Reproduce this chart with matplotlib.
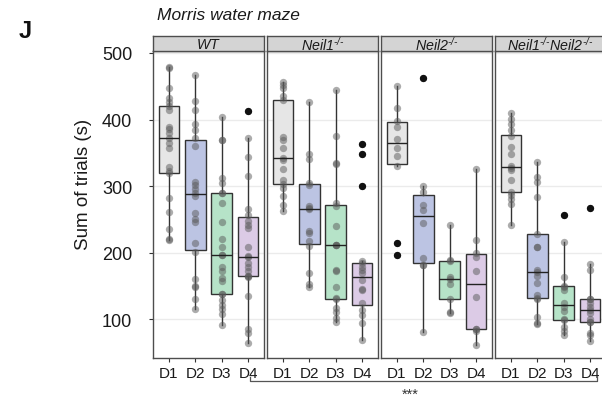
import matplotlib
matplotlib.use('Agg')
import matplotlib.pyplot as plt
from matplotlib.lines import Line2D
import numpy as np

plt.rcParams['font.family'] = ['Liberation Sans', 'DejaVu Sans']
plt.rcParams['mathtext.fontset'] = 'custom'
plt.rcParams['mathtext.rm'] = 'Liberation Sans:italic'
plt.rcParams['mathtext.it'] = 'Liberation Sans:italic'

days = ['D1', 'D2', 'D3', 'D4']
genotypes = [r'$\mathit{WT}$', r'$\mathit{Neil1}^{\text{-/-}}$', r'$\mathit{Neil2}^{\text{-/-}}$',
             r'$\mathit{Neil1}^{\text{-/-}}\mathit{Neil2}^{\text{-/-}}$']

wt_d1 = [219, 221, 236, 261, 283, 320, 323, 329, 358, 365, 373, 380, 386, 389, 415, 421, 426, 433, 447, 478, 479]
wt_d2 = [116, 130, 148, 150, 160, 201, 214, 246, 250, 260, 286, 290, 296, 302, 307, 360, 373, 384, 394, 415, 428, 467]
wt_d3 = [91, 108, 115, 121, 129, 138, 138, 158, 162, 172, 178, 197, 197, 208, 221, 246, 275, 290, 290, 305, 312, 369, 369, 404]
wt_d4 = [65, 79, 85, 135, 163, 165, 165, 172, 179, 185, 193, 195, 208, 237, 241, 247, 256, 265, 316, 344, 373, 413]
n1_d1 = [262, 271, 285, 297, 304, 309, 326, 340, 343, 358, 370, 374, 430, 435, 447, 452, 456]
n1_d2 = [149, 153, 169, 210, 217, 230, 232, 265, 267, 270, 302, 305, 341, 348, 426]
n1_d3 = [96, 102, 111, 117, 130, 132, 149, 172, 174, 211, 212, 212, 240, 270, 275, 333, 335, 376, 444]
n1_d4 = [69, 94, 106, 114, 124, 144, 145, 159, 169, 174, 179, 184, 188, 300, 348, 363]
n2_d1 = [197, 215, 330, 346, 358, 371, 389, 398, 417, 450]
n2_d2 = [81, 182, 182, 192, 245, 264, 272, 291, 300, 462]
n2_d3 = [110, 111, 130, 153, 160, 163, 188, 189, 242]
n2_d4 = [61, 83, 85, 85, 133, 173, 194, 199, 219, 326]
dko_d1 = [241, 274, 281, 287, 292, 310, 325, 327, 331, 349, 359, 375, 384, 393, 401, 410]
dko_d2 = [93, 95, 104, 130, 132, 137, 155, 165, 171, 174, 209, 209, 228, 284, 306, 314, 336]
dko_d3 = [76, 83, 88, 99, 100, 112, 118, 124, 144, 148, 150, 164, 216, 256]
dko_d4 = [68, 76, 79, 96, 96, 101, 110, 114, 118, 124, 131, 131, 174, 183, 267]

panels = [[wt_d1, wt_d2, wt_d3, wt_d4],
          [n1_d1, n1_d2, n1_d3, n1_d4],
          [n2_d1, n2_d2, n2_d3, n2_d4],
          [dko_d1, dko_d2, dko_d3, dko_d4]]

fills = ['#e6e6e6', '#bcc4e3', '#b6e3c8', '#dccbe6']
W, H = 602, 406
fig = plt.figure(figsize=(W / 100, H / 100), dpi=100)

def fx(x):
    return x / W

def fy(y):
    return 1 - y / H

panel_left = [153, 267, 381, 495]
pw = 111
top, bot = 52, 359
strip_top = 37
edge = '#4d4d4d'

for p, (left, data) in enumerate(zip(panel_left, panels)):
    ax = fig.add_axes([fx(left), fy(bot), pw / W, (bot - top) / H])
    ax.set_xlim(0.4, 4.6)
    ax.set_ylim(42, 503)
    ax.set_yticks([100, 200, 300, 400, 500])
    ax.grid(axis='y', color='#ebebeb', lw=1, zorder=0)
    ax.set_axisbelow(True)
    pos = np.arange(1, 5)
    bp = ax.boxplot(data, positions=pos, widths=0.78, patch_artist=True,
                    showcaps=False, whis=1.5,
                    flierprops=dict(marker='o', markerfacecolor='#111111',
                                    markeredgecolor='#111111', markersize=4.2, zorder=6),
                    medianprops=dict(color='#222222', lw=1.0, zorder=4),
                    whiskerprops=dict(color='#333333', lw=1.0),
                    boxprops=dict(edgecolor='#333333', lw=1.0))
    for patch, c in zip(bp['boxes'], fills):
        patch.set_facecolor(c)
        patch.set_zorder(2)
    for i, v in enumerate(data):
        ax.scatter(np.full(len(v), pos[i]), v, s=28, color='#5a5a5a', alpha=0.5,
                   lw=0, zorder=3)
    ax.set_xticks(pos)
    ax.set_xticklabels(days, fontsize=11)
    ax.tick_params(axis='x', length=3, color='#333333', pad=2.5, labelcolor='#1a1a1a')
    if p == 0:
        ax.tick_params(axis='y', length=3, color='#333333', labelsize=13,
                       labelcolor='#1a1a1a', pad=12)
    else:
        ax.tick_params(axis='y', length=0, labelleft=False)
    for s in ax.spines.values():
        s.set_color(edge)
        s.set_linewidth(1.0)
    # strip
    sax = fig.add_axes([fx(left), fy(top), pw / W, (top - strip_top) / H])
    sax.set_facecolor('#d4d4d4')
    sax.set_xticks([])
    sax.set_yticks([])
    for s in sax.spines.values():
        s.set_color(edge)
        s.set_linewidth(1.0)
    sax.text(0.5, 0.45, genotypes[p], transform=sax.transAxes, ha='center',
             va='center', fontsize=10.3, color='#1a1a1a')

fig.text(fx(84), fy(184), 'Sum of trials (s)', fontsize=13.5, rotation=90,
         ha='center', va='center', color='#1a1a1a')
fig.text(fx(157), fy(15), 'Morris water maze', fontsize=12.5, style='italic',
         ha='left', va='center', color='#1a1a1a')
fig.text(fx(25), fy(32), 'J', fontsize=17, fontweight='bold', ha='center',
         va='center', color='#111111')

bx = [fx(250), fx(250), fx(597), fx(597)]
by = [fy(378), fy(382), fy(382), fy(378)]
fig.add_artist(Line2D(bx, by, transform=fig.transFigure, color='#555555', lw=0.9))
fig.text(fx(410), fy(395), '***', fontsize=10.5, ha='center', va='center', color='#333333')

fig.savefig('out.png', dpi=100)
